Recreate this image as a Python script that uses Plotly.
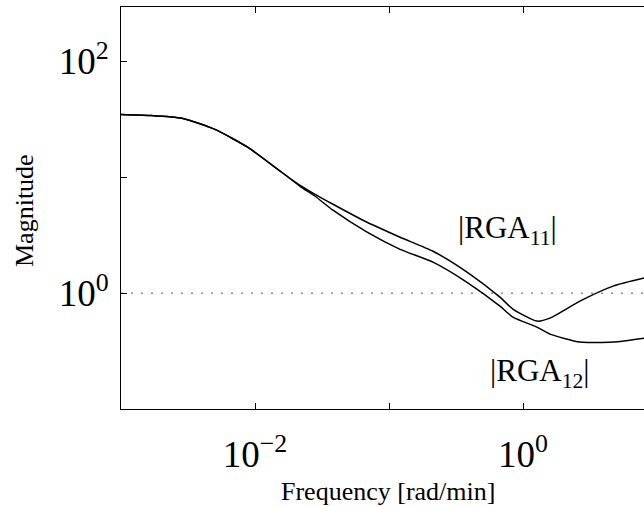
import math
import plotly.graph_objects as go

# Frequency [rad/min]
freq = [0.001, 0.00164, 0.00285, 0.00502, 0.00887, 0.0159, 0.0217, 0.0281,
        0.0382, 0.0686, 0.121, 0.213, 0.382, 0.673, 0.841, 1.27, 1.59, 2.66,
        4.70, 8.0]
# |RGA11|
rga11 = [34.9, 34.2, 32.3, 25.9, 18.1, 11.0, 8.53, 7.13, 5.85, 4.09, 3.04,
         2.30, 1.52, 0.924, 0.728, 0.574, 0.609, 0.853, 1.15, 1.35]
# |RGA12|
rga12 = [34.9, 34.2, 32.3, 25.9, 18.1, 11.0, 8.36, 6.86, 5.20, 3.36, 2.39,
         1.85, 1.24, 0.773, 0.621, 0.509, 0.443, 0.378, 0.378, 0.409]

x_tickvals = [0.001, 0.01, 0.1, 1]
x_ticktext = ["", "10<sup>\u22122</sup>", "", "10<sup>0</sup>"]
y_tickvals = [1, 10, 100]
y_ticktext = ["10<sup>0</sup>", "", "10<sup>2</sup>"]

ref_level = [1, 1]
ref_freq = [0.001, 8.0]

label11_pos = (0.76, 3.5)
label12_pos = (1.34, 0.204)

SERIF = "Liberation Serif"

fig = go.Figure()
fig.add_trace(go.Scatter(x=ref_freq, y=ref_level, mode="lines",
                         line=dict(color="#555555", width=1, dash="2px,8px"),
                         hoverinfo="skip", showlegend=False))
fig.add_trace(go.Scatter(x=freq, y=rga11, mode="lines",
                         line=dict(color="black", width=1.5, shape="spline", smoothing=0.6),
                         showlegend=False))
fig.add_trace(go.Scatter(x=freq, y=rga12, mode="lines",
                         line=dict(color="black", width=1.5, shape="spline", smoothing=0.6),
                         showlegend=False))

fig.add_annotation(x=math.log10(label11_pos[0]), y=math.log10(label11_pos[1]),
                   xref="x", yref="y", text="|RGA<sub>11</sub>|", showarrow=False,
                   xanchor="center", yanchor="middle",
                   font=dict(family=SERIF, size=31, color="black"))
fig.add_annotation(x=math.log10(label12_pos[0]), y=math.log10(label12_pos[1]),
                   xref="x", yref="y", text="|RGA<sub>12</sub>|", showarrow=False,
                   xanchor="center", yanchor="middle",
                   font=dict(family=SERIF, size=31, color="black"))

fig.add_annotation(x=0.5105, y=-0.204, xref="paper", yref="paper",
                   text="Frequency [rad/min]", showarrow=False,
                   xanchor="center", yanchor="middle",
                   font=dict(family=SERIF, size=26, color="black"))
fig.add_annotation(x=-0.1855, y=0.495, xref="paper", yref="paper",
                   text="Magnitude", showarrow=False, textangle=-90,
                   xanchor="center", yanchor="middle",
                   font=dict(family=SERIF, size=26, color="black"))

fig.update_xaxes(type="log", range=[-3, 0.903], showgrid=False, zeroline=False,
                 showline=True, linecolor="black", linewidth=1, mirror="ticks",
                 ticks="inside", ticklen=6, tickcolor="black", tickwidth=1,
                 tickvals=x_tickvals, ticktext=x_ticktext, ticklabelstandoff=13,
                 tickfont=dict(family=SERIF, size=37, color="black"),
                 automargin=False)
fig.update_yaxes(type="log", range=[-1, 2.47], showgrid=False, zeroline=False,
                 showline=True, linecolor="black", linewidth=1, mirror=False,
                 ticks="inside", ticklen=6, tickcolor="black", tickwidth=1,
                 tickvals=y_tickvals, ticktext=y_ticktext, ticklabelstandoff=4,
                 tickfont=dict(family=SERIF, size=37, color="black"),
                 automargin=False)

fig.update_layout(width=644, height=507, margin=dict(l=121, r=0, t=7, b=98),
                  paper_bgcolor="white", plot_bgcolor="white", showlegend=False)

fig.write_html("out.html")
